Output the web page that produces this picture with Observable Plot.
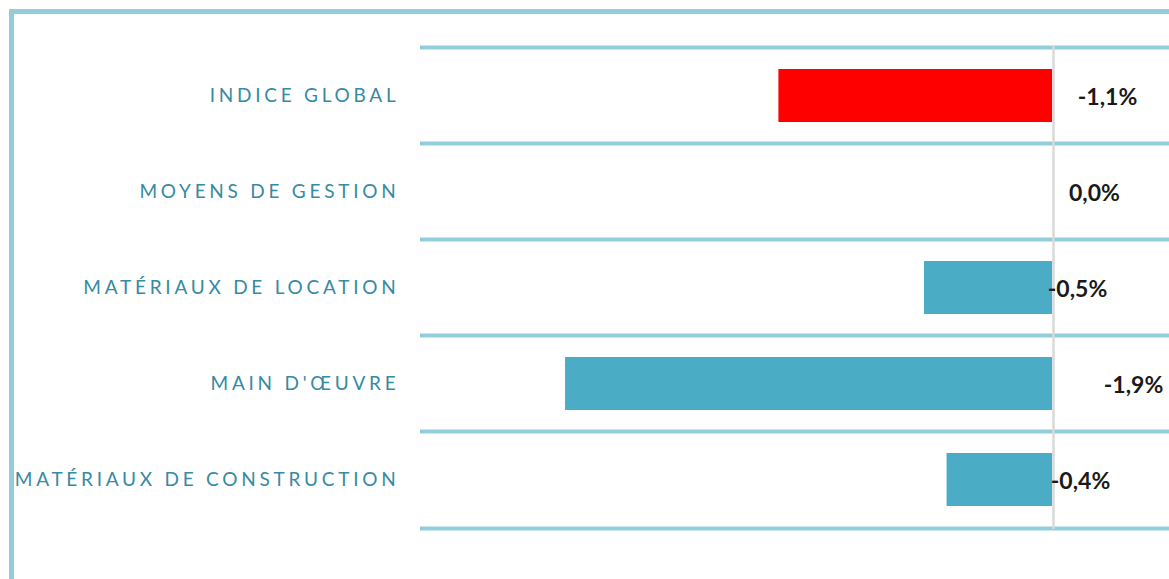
<!DOCTYPE html>
<html>
<head>
<meta charset="utf-8">
<script src="https://cdn.jsdelivr.net/npm/d3@7"></script>
<script src="https://cdn.jsdelivr.net/npm/@observablehq/plot@0.6"></script>
<style>
  html, body { margin: 0; padding: 0; background: #fff; overflow: hidden; }
  #wrap { position: relative; width: 1169px; height: 579px; }
  #frame { position: absolute; left: 9px; top: 9px; right: -10px; bottom: -10px;
           border-left: 5px solid #92CDDC; border-top: 5px solid #92CDDC; }
  #chart { position: absolute; left: 0; top: 0; }
  #chart .cat text { letter-spacing: 3.75px; }
</style>
</head>
<body>
<div id="wrap"><div id="frame"></div><div id="chart"></div></div>
<script>
const categories = ["INDICE GLOBAL", "MOYENS DE GESTION", "MATÉRIAUX DE LOCATION", "MAIN D'ŒUVRE", "MATÉRIAUX DE CONSTRUCTION"];
const values = [-1.09, 0.0, -0.51, -1.94, -0.42];
const labels = ["-1,1%", "0,0%", "-0,5%", "-1,9%", "-0,4%"];

const data = categories.map((c, i) => ({cat: c, value: values[i], label: labels[i], i}));

// style: label horizontal offsets (px, from zero line) as placed in the reference
const labelDx = [55, 42, 25, 81, 28];
const step = 97;

const plot = Plot.plot({
  width: 1169,
  height: 579,
  marginLeft: 420,
  marginRight: 0,
  marginTop: 45,
  marginBottom: 50,
  style: {background: "transparent", fontFamily: "Lato, 'Open Sans', sans-serif"},
  x: {domain: [(420 - 1052) / 251, (1169 - 1052) / 251], axis: null},
  y: {domain: categories, paddingInner: 0.45, paddingOuter: 0.225, label: null},
  marks: [
    Plot.ruleY(categories, {y: d => d, dy: -step / 2, stroke: "#92CDDC", strokeWidth: 4}),
    Plot.ruleY([categories[categories.length - 1]], {y: d => d, dy: step / 2, stroke: "#92CDDC", strokeWidth: 4}),
    Plot.barX(data, {y: "cat", x: "value", fill: d => d.cat === "INDICE GLOBAL" ? "#FF0000" : "#4BACC6"}),
    Plot.ruleX([0], {stroke: "#D9D9D9", strokeWidth: 2.5, dx: 1}),
    Plot.axisY({tickSize: 0, tickPadding: 21, fontSize: 19, color: "#368AA2", className: "cat"}),
    Plot.text(data, {y: "cat", x: 0, text: "label", fontSize: 23, fontWeight: "bold", fill: "#1a1a1a",
      textAnchor: "middle", dy: 2,
      render: (index, scales, values, dims, ctx, next) => {
        const g = next(index, scales, values, dims, ctx);
        d3.select(g).selectAll("text").attr("x", (_, k) => labelDx[index[k]]);
        return g;
      }})
  ]
});
document.getElementById("chart").appendChild(plot);
</script>
</body>
</html>
